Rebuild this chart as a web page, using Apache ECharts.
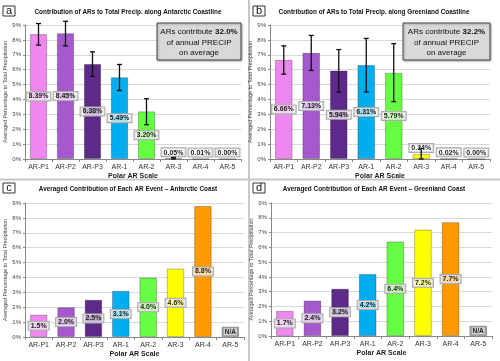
<!DOCTYPE html>
<html>
<head>
<meta charset="utf-8">
<script src="https://cdn.jsdelivr.net/npm/echarts@6/dist/echarts.min.js"></script>
<style>
  html, body { margin: 0; padding: 0; background: #fff; }
  #chart { width: 500px; height: 361px; }
</style>
</head>
<body>
<div id="chart"></div>
<script>
// categories on the Polar AR scale
const categories = ['AR-P1', 'AR-P2', 'AR-P3', 'AR-1', 'AR-2', 'AR-3', 'AR-4', 'AR-5']
const barColors = ['#ee88ee', '#a559cc', '#5c2a88', '#00aeef', '#66ff44', '#ffff00', '#ff9900', '#a6a6a6']

// (a) share of total precip, Antarctic coastline (%)
const antTotal = [8.39, 8.45, 6.38, 5.49, 3.20, 0.05, 0.01, 0.00]
const antTotalLow = [7.65, 7.6, 5.55, 4.6, 2.3, 0.0, null, null]
const antTotalHigh = [9.1, 9.25, 7.2, 6.35, 4.05, 0.1, null, null]

// (b) share of total precip, Greenland coastline (%)
const grnTotal = [6.66, 7.13, 5.94, 6.31, 5.79, 0.34, 0.02, 0.00]
const grnTotalLow = [5.7, 5.95, 4.5, 4.5, 3.85, 0.0, null, null]
const grnTotalHigh = [7.6, 8.3, 7.35, 8.1, 7.75, 0.7, null, null]

// (c)/(d) averaged contribution of each event (%), AR-5 has no events
const antEvent = [1.5, 2.0, 2.5, 3.1, 4.0, 4.6, 8.8, null]
const grnEvent = [1.7, 2.4, 3.2, 4.2, 6.4, 7.2, 7.7, null]
const naBarHeight = 0.7

const yTicks = [0, 1, 2, 3, 4, 5, 6, 7, 8, 9]

const FONT = '"Liberation Sans", sans-serif'

const chart = echarts.init(document.getElementById('chart'))

const grids = [
  { left: 25, top: 25, width: 216, height: 134 },
  { left: 270, top: 25, width: 220, height: 134 },
  { left: 25, top: 203, width: 219, height: 134 },
  { left: 271, top: 203, width: 221, height: 133 },
]

function xAxis(i) {
  return {
    type: 'category',
    gridIndex: i,
    data: categories,
    name: 'Polar AR Scale',
    nameLocation: 'middle',
    nameGap: 14,
    nameTextStyle: { fontFamily: FONT, fontSize: 7, fontWeight: 'bold', color: '#222' },
    axisLine: { lineStyle: { color: '#888' } },
    axisTick: { show: true, length: 3, lineStyle: { color: '#888' } },
    axisLabel: { fontFamily: FONT, fontSize: 7, color: '#333', margin: 5, interval: 0 },
  }
}

function yAxis(i) {
  return {
    type: 'value',
    gridIndex: i,
    min: yTicks[0],
    max: yTicks[yTicks.length - 1],
    interval: 1,
    name: 'Averaged Percentage to Total Precipitation',
    nameLocation: 'middle',
    nameGap: 15,
    nameTextStyle: { fontFamily: FONT, fontSize: 5.4, color: '#444' },
    axisLine: { show: true, lineStyle: { color: '#888' } },
    axisTick: { show: true, length: 2, lineStyle: { color: '#888' } },
    axisLabel: { fontFamily: FONT, fontSize: 6, color: '#444', margin: 4, formatter: '{value}%' },
    splitLine: { lineStyle: { color: '#d9d9d9' } },
  }
}

const labelBase = {
  show: true,
  fontFamily: FONT,
  fontSize: 7,
  fontWeight: 'bold',
  color: '#222',
  backgroundColor: 'rgba(255,255,255,0.6)',
  borderColor: '#aaa',
  borderWidth: 1,
  padding: [1, 2, 0, 2],
}

function totalItems(values) {
  return values.map((v, i) => ({
    value: v,
    itemStyle: { color: barColors[i] },
    label: v < 1
      ? { position: 'top', distance: 2, formatter: v.toFixed(2) + '%' }
      : { position: 'inside', formatter: v.toFixed(2) + '%' },
  }))
}

function eventItems(values) {
  return values.map((v, i) => v === null
    ? {
        value: naBarHeight,
        itemStyle: { color: barColors[i] },
        label: {
          position: 'inside', formatter: 'N/A', fontSize: 6.5,
          backgroundColor: 'rgba(255,255,255,0.55)', borderColor: '#999', padding: [0, 1, 0, 1],
        },
      }
    : {
        value: v,
        itemStyle: { color: barColors[i] },
        label: { position: 'inside', formatter: v.toFixed(1) + '%' },
      })
}

function errorData(low, high) {
  const out = []
  low.forEach((l, i) => {
    if (l !== null && high[i] !== null) out.push([i, l, high[i]])
  })
  return out
}

function errorSeries(i, low, high) {
  return {
    type: 'custom',
    xAxisIndex: i,
    yAxisIndex: i,
    z: 5,
    silent: true,
    data: errorData(low, high),
    renderItem(params, api) {
      const lo = api.coord([api.value(0), api.value(1)])
      const hi = api.coord([api.value(0), api.value(2)])
      const cap = 2.5
      const style = { stroke: '#111', lineWidth: 1.3 }
      return {
        type: 'group',
        children: [
          { type: 'line', shape: { x1: hi[0], y1: hi[1], x2: lo[0], y2: lo[1] }, style },
          { type: 'line', shape: { x1: hi[0] - cap, y1: hi[1], x2: hi[0] + cap, y2: hi[1] }, style },
          { type: 'line', shape: { x1: lo[0] - cap, y1: lo[1], x2: lo[0] + cap, y2: lo[1] }, style },
        ],
      }
    },
  }
}

function barSeries(i, items) {
  return {
    type: 'bar',
    xAxisIndex: i,
    yAxisIndex: i,
    barWidth: '64%',
    data: items,
    itemStyle: { borderColor: 'rgba(0,0,0,0.25)', borderWidth: 1 },
    label: labelBase,
  }
}

const titles = [
  { x: 128, y: 12, text: 'Contribution of ARs to Total Precip. along Antarctic Coastline' },
  { x: 374, y: 12, text: 'Contribution of ARs to Total Precip. along Greenland Coastline' },
  { x: 128, y: 189, text: 'Averaged Contribution of Each AR Event \u2013 Antarctic Coast' },
  { x: 374, y: 189, text: 'Averaged Contribution of Each AR Event \u2013 Greenland Coast' },
]
const letters = [
  { x: 3, y: 6, text: 'a' },
  { x: 253, y: 6, text: 'b' },
  { x: 3, y: 183, text: 'c' },
  { x: 253, y: 183, text: 'd' },
]
const boxes = [
  { x: 157, y: 23, w: 84, h: 37, pct: '32.0%' },
  { x: 403, y: 23, w: 87, h: 37, pct: '32.2%' },
]

const graphic = [
  { type: 'rect', shape: { x: 248, y: 0, width: 2, height: 361 }, style: { fill: '#c8c8c8' } },
  { type: 'rect', shape: { x: 0, y: 178.5, width: 500, height: 2 }, style: { fill: '#c8c8c8' } },
]
titles.forEach(t => graphic.push({
  type: 'text', x: t.x, y: t.y,
  style: { text: t.text, fontFamily: FONT, fontSize: 6.4, fontWeight: 'bold', fill: '#111', align: 'center', verticalAlign: 'middle' },
}))
letters.forEach(l => {
  graphic.push({ type: 'rect', shape: { x: l.x, y: l.y, width: 12, height: 10 }, style: { fill: '#fff', stroke: '#333', lineWidth: 1 } })
  graphic.push({
    type: 'text', x: l.x + 6, y: l.y + 5,
    style: { text: l.text, fontFamily: FONT, fontSize: 11, fill: '#111', align: 'center', verticalAlign: 'middle' },
  })
})
boxes.forEach(b => {
  graphic.push({
    type: 'rect', z: 100, shape: { x: b.x, y: b.y, width: b.w, height: b.h },
    style: { fill: '#d9d9d9', stroke: '#444', lineWidth: 1, shadowBlur: 2, shadowColor: 'rgba(0,0,0,0.3)', shadowOffsetX: 1, shadowOffsetY: 1 },
  })
  graphic.push({
    type: 'text', z: 101, x: b.x + b.w / 2, y: b.y + b.h / 2 + 1,
    style: {
      text: 'ARs contribute {b|' + b.pct + '}\nof annual PRECIP\non average',
      fontFamily: FONT, fontSize: 8, fill: '#111', align: 'center', verticalAlign: 'middle', lineHeight: 10.5,
      rich: { b: { fontFamily: FONT, fontSize: 8, fontWeight: 'bold', fill: '#111' } },
    },
  })
})

chart.setOption({
  animation: false,
  textStyle: { fontFamily: FONT },
  grid: grids,
  xAxis: [0, 1, 2, 3].map(xAxis),
  yAxis: [0, 1, 2, 3].map(yAxis),
  series: [
    barSeries(0, totalItems(antTotal)),
    errorSeries(0, antTotalLow, antTotalHigh),
    barSeries(1, totalItems(grnTotal)),
    errorSeries(1, grnTotalLow, grnTotalHigh),
    barSeries(2, eventItems(antEvent)),
    barSeries(3, eventItems(grnEvent)),
  ],
  graphic,
})
</script>
</body>
</html>
